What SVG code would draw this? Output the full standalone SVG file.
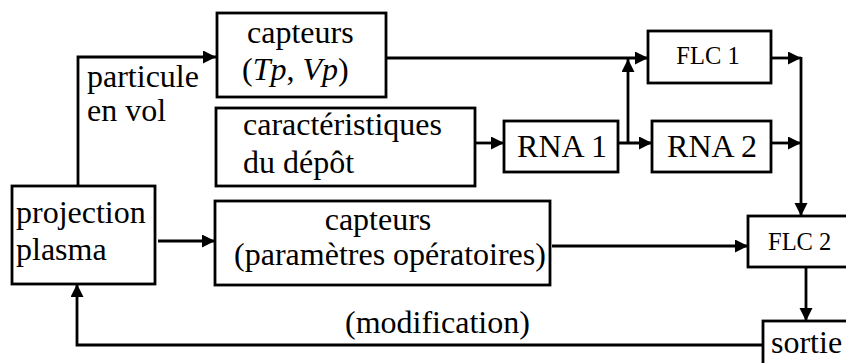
<svg xmlns="http://www.w3.org/2000/svg" width="846" height="363" viewBox="0 0 846 363" font-family="Times New Roman, serif" font-size="32">
<style>
.box{fill:#fff;stroke:#000;stroke-width:2.8}
.ln{fill:none;stroke:#000;stroke-width:2.8}
.sm{font-size:24.5px}
</style>
<defs>
<marker id="ah" markerUnits="userSpaceOnUse" markerWidth="14" markerHeight="14" refX="13" refY="6.5" orient="auto">
<path d="M0,0 L13,6.5 L0,13 z" fill="#000"/>
</marker>
</defs>
<rect width="846" height="363" fill="#fff"/>
<g id="connectors">
<path class="ln" d="M78,186 V57 H216" marker-end="url(#ah)"/>
<path class="ln" d="M386,58 H648" marker-end="url(#ah)"/>
<path class="ln" d="M475,143 H504" marker-end="url(#ah)"/>
<path class="ln" d="M618,143 H652" marker-end="url(#ah)"/>
<path class="ln" d="M628,143 V59" marker-end="url(#ah)"/>
<path class="ln" d="M771,58 H801" marker-end="url(#ah)"/>
<path class="ln" d="M771,143 H801" marker-end="url(#ah)"/>
<path class="ln" d="M801,57 V216" marker-end="url(#ah)"/>
<path class="ln" d="M158,241 H215" marker-end="url(#ah)"/>
<path class="ln" d="M552,246 H748" marker-end="url(#ah)"/>
<path class="ln" d="M806,267 V321" marker-end="url(#ah)"/>
<path class="ln" d="M763,345 H77 V284" marker-end="url(#ah)"/>
</g>
<g id="label-particule">
<text x="87" y="87">particule</text>
<text x="87" y="121">en vol</text>
</g>
<g id="label-modification">
<text x="345" y="333">(modification)</text>
</g>
<g id="capteurs-tp-vp">
<rect class="box" x="217" y="13" width="169" height="84"/>
<text x="247" y="43">capteurs</text>
<text x="242" y="80">(<tspan font-style="italic">Tp</tspan>, <tspan font-style="italic">Vp</tspan>)</text>
</g>
<g id="caracteristiques">
<rect class="box" x="216" y="108" width="259" height="78"/>
<text x="243" y="135">caractéristiques</text>
<text x="243" y="173">du dépôt</text>
</g>
<g id="rna1">
<rect class="box" x="504" y="121" width="114" height="51"/>
<text x="562" y="157" text-anchor="middle">RNA 1</text>
</g>
<g id="rna2">
<rect class="box" x="652" y="121" width="119" height="51"/>
<text x="712" y="157" text-anchor="middle">RNA 2</text>
</g>
<g id="flc1">
<rect class="box" x="648" y="31" width="123" height="52"/>
<text class="sm" x="708" y="64" text-anchor="middle">FLC 1</text>
</g>
<g id="projection">
<rect class="box" x="12" y="186" width="143" height="98"/>
<text x="16" y="223">projection</text>
<text x="16" y="260">plasma</text>
</g>
<g id="capteurs-parametres">
<rect class="box" x="215" y="201" width="335" height="84"/>
<text x="378" y="230" text-anchor="middle">capteurs</text>
<text x="390" y="265" text-anchor="middle">(paramètres opératoires)</text>
</g>
<g id="flc2">
<rect class="box" x="748" y="216" width="100" height="51"/>
<text class="sm" x="768" y="250">FLC 2</text>
</g>
<g id="sortie">
<rect class="box" x="763" y="321" width="87" height="46"/>
<text x="771" y="353">sortie</text>
</g>
</svg>
